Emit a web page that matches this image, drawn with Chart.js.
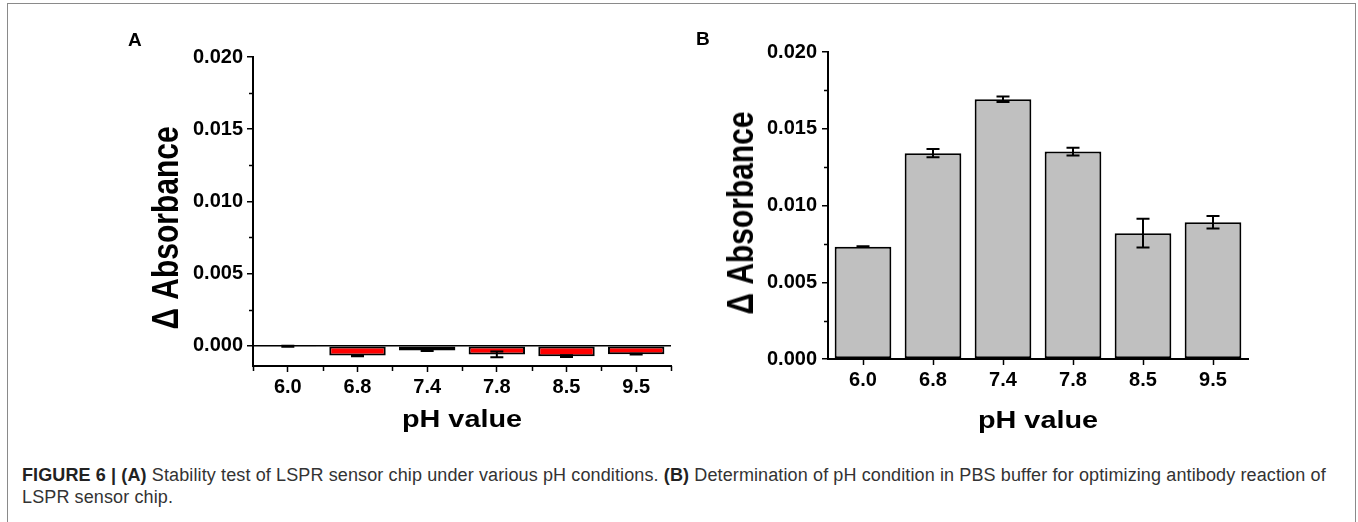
<!DOCTYPE html>
<html><head><meta charset="utf-8">
<script src="https://cdn.jsdelivr.net/npm/chart.js@4.4.1/dist/chart.umd.min.js"></script>
<style>
html,body{margin:0;padding:0;background:#fff;width:1358px;height:522px;overflow:hidden;font-family:"Liberation Sans",Arial,sans-serif;}
#frame{position:absolute;left:7px;top:3px;width:1347px;height:560px;border:1px solid #8a8a8a;border-bottom:none;}
canvas{position:absolute;}
.lbl{position:absolute;font-weight:bold;color:#000;white-space:nowrap;line-height:1;}
.yt{transform:translate(-50%,-50%) rotate(-90deg) scaleX(0.833);font-size:36px;}
.xt{transform:translate(-50%,-50%) scaleX(1.2);font-size:24px;}
.pl{font-size:19px;}
#cap{position:absolute;left:22px;top:464px;font-size:18px;line-height:22px;color:#333;white-space:nowrap;letter-spacing:0.12px;}
#cap b{color:#222;}
</style></head>
<body>
<div id="frame"></div>
<canvas id="cA" width="660" height="460" style="left:60px;top:0px"></canvas>
<canvas id="cB" width="700" height="460" style="left:640px;top:0px"></canvas>
<div class="lbl pl" style="left:128px;top:30px">A</div>
<div class="lbl pl" style="left:696px;top:29px">B</div>
<div class="lbl yt" style="left:166px;top:228px">Δ Absorbance</div>
<div class="lbl yt" style="left:741px;top:213px">Δ Absorbance</div>
<div class="lbl xt" style="left:462px;top:419px">pH value</div>
<div class="lbl xt" style="left:1038px;top:420px">pH value</div>
<div id="cap"><b>FIGURE 6 | (A)</b> Stability test of LSPR sensor chip under various pH conditions. <b>(B)</b> Determination of pH condition in PBS buffer for optimizing antibody reaction of<br>LSPR sensor chip.</div>
<script>
// ---- data ----
const phCategories = ['6.0','6.8','7.4','7.8','8.5','9.5'];
const stabilityValues = [-0.00003, -0.00068, -0.00033, -0.00060, -0.00072, -0.00058];
const stabilityErrors = [0.00003, 0.00004, 0.00003, 0.00020, 0.00006, 0.00003];
const optimizeValues = [0.00732, 0.01341, 0.01692, 0.01351, 0.00820, 0.00891];
const optimizeErrors = [0.00003, 0.00027, 0.00018, 0.00025, 0.00094, 0.00041];
const yTickValues = [0, 0.005, 0.010, 0.015, 0.020];
const yTickLabels = ['0.000','0.005','0.010','0.015','0.020'];
const yMinorValues = [0.0025, 0.0075, 0.0125, 0.0175];

const errorBars = {
  id: 'errorBars',
  afterDatasetsDraw(chart, args, opts) {
    const ctx = chart.ctx, y = chart.scales.y;
    const meta = chart.getDatasetMeta(0);
    const vals = chart.data.datasets[0].data;
    ctx.save();
    ctx.strokeStyle = '#000';
    ctx.lineWidth = 2;
    meta.data.forEach((bar, i) => {
      const e = opts.errors[i];
      const yt = y.getPixelForValue(vals[i] + e);
      const yb = y.getPixelForValue(vals[i] - e);
      const x = bar.x, c = opts.cap;
      ctx.beginPath();
      ctx.moveTo(x, yt); ctx.lineTo(x, yb);
      ctx.moveTo(x - c, yt); ctx.lineTo(x + c, yt);
      ctx.moveTo(x - c, yb); ctx.lineTo(x + c, yb);
      ctx.stroke();
    });
    ctx.restore();
  }
};

const minorTicks = {
  id: 'minorTicks',
  afterDraw(chart, args, opts) {
    const ctx = chart.ctx, x = chart.scales.x, y = chart.scales.y;
    const area = chart.chartArea;
    ctx.save();
    ctx.strokeStyle = '#000';
    ctx.lineWidth = 1.5;
    ctx.beginPath();
    yMinorValues.forEach(v => {
      const py = Math.round(y.getPixelForValue(v)) + 0.5;
      ctx.moveTo(area.left - 4, py); ctx.lineTo(area.left, py);
    });
    if (opts.boundaries) {
      const n = phCategories.length;
      const pts = [area.left];
      for (let i = 1; i < n; i++) pts.push((x.getPixelForValue(i - 1) + x.getPixelForValue(i)) / 2);
      pts.push(area.right);
      pts.forEach(px => {
        const p = Math.round(px) + 0.5;
        ctx.moveTo(p, area.bottom); ctx.lineTo(p, area.bottom + 5);
      });
    }
    ctx.stroke();
    ctx.restore();
  }
};

function makeChart(id, values, errors, color, yMin, yWidth, xHeight, padTop, padRight, zeroLine, yPad, boundaries) {
  return new Chart(document.getElementById(id), {
    type: 'bar',
    data: {
      labels: phCategories,
      datasets: [{
        data: values,
        backgroundColor: color,
        borderColor: '#000',
        borderWidth: 2,
        borderSkipped: false,
        barPercentage: 0.81,
        categoryPercentage: 1.0
      }]
    },
    options: {
      responsive: false,
      animation: false,
      devicePixelRatio: 1,
      layout: { padding: { top: padTop, right: padRight, left: 0, bottom: 0 } },
      plugins: {
        legend: { display: false },
        tooltip: { enabled: false },
        errorBars: { errors: errors, cap: 6.5 },
        minorTicks: { boundaries: boundaries }
      },
      scales: {
        x: {
          afterFit(s) { s.height = xHeight; },
          grid: { display: true, drawOnChartArea: false, offset: false, drawTicks: true, tickLength: 6, tickColor: '#000', tickWidth: 1.5 },
          border: { display: true, color: '#000', width: 2 },
          ticks: { color: '#000', font: { family: 'Liberation Sans', size: 20, weight: 'bold' }, padding: 3, autoSkip: false, maxRotation: 0 }
        },
        y: {
          min: yMin, max: 0.020,
          afterFit(s) { s.width = yWidth; },
          afterBuildTicks(s) { s.ticks = yTickValues.map(v => ({ value: v })); },
          grid: {
            display: true,
            drawOnChartArea: zeroLine,
            color: c => (c.tick && c.tick.value === 0) ? '#000' : 'rgba(0,0,0,0)',
            lineWidth: 1.5,
            drawTicks: true, tickLength: 6, tickColor: '#000', tickWidth: 1.5
          },
          border: { display: true, color: '#000', width: 2 },
          ticks: {
            color: '#000', font: { family: 'Liberation Sans', size: 20, weight: 'bold' }, padding: yPad,
            callback: (v, i) => yTickLabels[i]
          }
        }
      }
    },
    plugins: [errorBars, minorTicks]
  });
}

makeChart('cA', stabilityValues, stabilityErrors, '#ff0000', -0.0014, 193, 94, 57, 49, true, 4, true);
makeChart('cB', optimizeValues, optimizeErrors, '#c0c0c0', 0, 188, 101, 52, 92, false, 5, false);
</script>
</body></html>
